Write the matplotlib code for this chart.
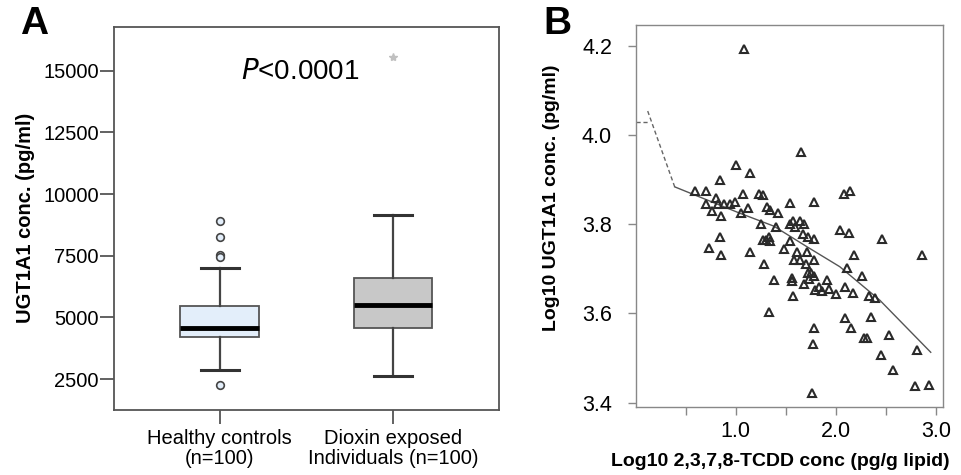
import matplotlib
matplotlib.use("Agg")
import matplotlib.pyplot as plt

plt.rcParams['font.family'] = ['Liberation Sans', 'DejaVu Sans']

# panel A: box summary
groups = ["Healthy controls\n(n=100)", "Dioxin exposed\nIndividuals (n=100)"]
q1 = [4190, 4580]
med = [4580, 5510]
q3 = [5470, 6580]
whislo = [2865, 2620]
whishi = [7010, 9135]
fliers_healthy = [8905, 8270, 7530, 7430, 2245]
fliers_dioxin = [15570]
p_text = "<0.0001"

# panel B: log10 TCDD vs log10 UGT1A1
tcdd = [1.08, 1.65, 1.00, 1.14, 0.84, 0.59, 0.70, 1.07, 1.23, 1.27,
        1.78, 1.54, 0.80, 0.70, 0.82, 0.88, 0.94, 0.99, 0.76, 0.85,
        1.05, 1.12, 1.31, 1.34, 1.42, 1.25, 1.40, 1.54, 1.57, 1.59,
        1.64, 1.68, 1.67, 1.72, 1.78, 1.54, 0.84, 0.73, 0.85, 1.14,
        1.27, 1.30, 1.33, 1.34, 1.48, 1.28, 1.61, 1.71, 1.58, 1.64,
        1.70, 1.78, 1.72, 1.75, 1.78, 1.56, 1.56, 1.38, 1.68, 1.73,
        1.57, 1.79, 1.83, 1.86, 1.91, 1.93, 2.00, 2.04, 2.13, 2.08,
        2.14, 2.18, 2.11, 2.09, 2.17, 2.26, 2.46, 2.33, 2.39, 2.35,
        2.09, 2.15, 2.28, 2.31, 2.53, 2.45, 2.57, 2.81, 2.86, 2.79,
        2.93, 1.78, 1.77, 1.76, 1.33]
ugt = [4.193, 3.963, 3.933, 3.916, 3.900, 3.875, 3.875, 3.869, 3.869, 3.866,
       3.851, 3.848, 3.860, 3.845, 3.845, 3.845, 3.845, 3.850, 3.830, 3.819,
       3.825, 3.837, 3.838, 3.832, 3.825, 3.800, 3.795, 3.800, 3.808, 3.793,
       3.808, 3.801, 3.778, 3.772, 3.768, 3.763, 3.772, 3.748, 3.731, 3.737,
       3.765, 3.765, 3.772, 3.762, 3.745, 3.711, 3.737, 3.737, 3.721, 3.720,
       3.712, 3.721, 3.690, 3.690, 3.685, 3.679, 3.673, 3.675, 3.666, 3.677,
       3.640, 3.652, 3.659, 3.651, 3.675, 3.655, 3.643, 3.787, 3.780, 3.869,
       3.875, 3.732, 3.703, 3.660, 3.645, 3.685, 3.767, 3.640, 3.634, 3.593,
       3.591, 3.567, 3.546, 3.546, 3.551, 3.508, 3.474, 3.518, 3.732, 3.438,
       3.439, 3.567, 3.531, 3.421, 3.604]
fit_x = [0.39, 1.04, 1.38, 1.71, 2.04, 2.44, 2.95]
fit_y = [3.884, 3.825, 3.796, 3.750, 3.705, 3.630, 3.513]
dash_x = [0.12, 0.39]
dash_y = [4.054, 3.884]
stub_x = [0.0, 0.127]
stub_y = [4.03, 4.03]

fig = plt.figure(figsize=(9.61, 4.75), dpi=100)

# ---- panel A
axA = fig.add_axes([0.1186, 0.1368, 0.4006, 0.807])
stats = []
for i in range(2):
    stats.append(dict(q1=q1[i], med=med[i], q3=q3[i], whislo=whislo[i],
                      whishi=whishi[i], fliers=[]))
bp = axA.bxp(stats, positions=[1, 2], widths=0.453, capwidths=0.22,
             patch_artist=True, showfliers=False,
             medianprops=dict(color='black', linewidth=3.5),
             whiskerprops=dict(color='#444444', linewidth=1.6),
             capprops=dict(color='#333333', linewidth=2.2),
             boxprops=dict(edgecolor='#555555', linewidth=1.3))
bp['boxes'][0].set_facecolor('#e3eefa')
bp['boxes'][1].set_facecolor('#c8c8c8')
axA.plot([1] * len(fliers_healthy), fliers_healthy, 'o', ms=5.5,
         mfc='#e3eefa', mec='#444444', mew=1.2)
axA.plot([2] * len(fliers_dioxin), fliers_dioxin, '*', ms=6,
         color='#c0c0c0')
axA.text(1.467, 14950, r"$\it{P}$" + p_text, fontsize=20,
         ha='center', va='center')

axA.set_xlim(0.39, 2.61)
axA.set_ylim(1244, 16783)
axA.set_yticks([2500, 5000, 7500, 10000, 12500, 15000])
axA.set_xticks([1, 2])
axA.set_xticklabels(groups, fontsize=14.5, linespacing=1.05)
axA.tick_params(axis='y', labelsize=14.5, length=10, width=1.3,
                color='#555555', pad=1)
axA.tick_params(axis='x', length=10, width=1.3, color='#555555', pad=4)
for s in axA.spines.values():
    s.set_color('#555555')
    s.set_linewidth(1.3)
axA.set_ylabel("UGT1A1 conc. (pg/ml)", fontsize=14.5, fontweight='bold',
               labelpad=6)

# ---- panel B
axB = fig.add_axes([0.6615, 0.1438, 0.3195, 0.8036])
axB.plot(stub_x, stub_y, '--', color='#666666', lw=1, dashes=(3, 2))
axB.plot(dash_x, dash_y, '--', color='#666666', lw=1, dashes=(3, 2))
axB.plot(fit_x, fit_y, '-', color='#555555', lw=1)
axB.plot(tcdd, ugt, '^', ms=6.3, mfc='none', mec='#2a2a2a', mew=1.5)

axB.set_xlim(0, 3.07)
axB.set_ylim(3.391, 4.247)
axB.set_yticks([3.4, 3.6, 3.8, 4.0, 4.2])
axB.set_yticklabels(['3.4', '3.6', '3.8', '4.0', '4.2'])
axB.set_xticks([0.5, 1.0, 1.5, 2.0, 2.5, 3.0])
axB.set_xticklabels(['', '1.0', '', '2.0', '', '3.0'])
axB.tick_params(axis='y', labelsize=15.5, length=6, width=1,
                color='#888888', pad=11)
axB.tick_params(axis='x', labelsize=15.5, length=6, width=1,
                color='#888888', pad=4)
for s in axB.spines.values():
    s.set_color('#888888')
    s.set_linewidth(1)

fig.text(551 / 961, 1 - 198 / 475, "Log10 UGT1A1 conc. (pg/ml)", rotation=90,
         fontsize=14, fontweight='bold', ha='center', va='center')
fig.text(780 / 961, 1 - 461 / 475, "Log10 2,3,7,8-TCDD conc (pg/g lipid)",
         fontsize=14, fontweight='bold', ha='center', va='center')

fig.text(20 / 961, 1 - 24 / 475, "A", fontsize=28, fontweight='bold',
         ha='left', va='center')
fig.text(543 / 961, 1 - 24 / 475, "B", fontsize=28, fontweight='bold',
         ha='left', va='center')

fig.savefig("out.png", dpi=100)
